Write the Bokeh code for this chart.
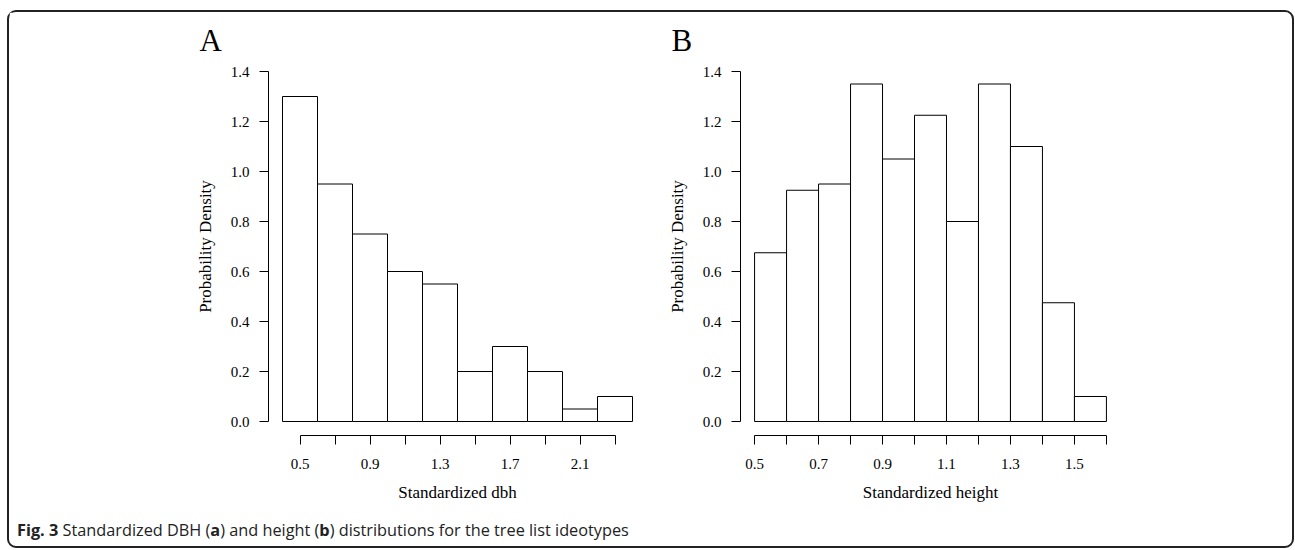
from bokeh.plotting import figure
from bokeh.models import FixedTicker, PrintfTickFormatter, Title, Div, Range1d, ColumnDataSource
from bokeh.layouts import row, column
from bokeh.embed import file_html
from bokeh.resources import INLINE

# ---- data ----
dbh_bin_left = [0.4, 0.6, 0.8, 1.0, 1.2, 1.4, 1.6, 1.8, 2.0, 2.2]
dbh_bin_right = [0.6, 0.8, 1.0, 1.2, 1.4, 1.6, 1.8, 2.0, 2.2, 2.4]
dbh_density = [1.3, 0.95, 0.75, 0.6, 0.55, 0.2, 0.3, 0.2, 0.05, 0.1]
dbh_ticks = [0.5, 0.7, 0.9, 1.1, 1.3, 1.5, 1.7, 1.9, 2.1, 2.3]
dbh_tick_labels = ["0.5", "", "0.9", "", "1.3", "", "1.7", "", "2.1", ""]

height_bin_left = [0.5, 0.6, 0.7, 0.8, 0.9, 1.0, 1.1, 1.2, 1.3, 1.4, 1.5]
height_bin_right = [0.6, 0.7, 0.8, 0.9, 1.0, 1.1, 1.2, 1.3, 1.4, 1.5, 1.6]
height_density = [0.675, 0.925, 0.95, 1.35, 1.05, 1.225, 0.8, 1.35, 1.1, 0.475, 0.1]
height_ticks = [0.5, 0.6, 0.7, 0.8, 0.9, 1.0, 1.1, 1.2, 1.3, 1.4, 1.5, 1.6]
height_tick_labels = ["0.5", "", "0.7", "", "0.9", "", "1.1", "", "1.3", "", "1.5", ""]

density_ticks = [0.0, 0.2, 0.4, 0.6, 0.8, 1.0, 1.2, 1.4]

panel_letters = ["A", "B"]
x_titles = ["Standardized dbh", "Standardized height"]
y_title = "Probability Density"

SERIF = "Liberation Serif"


def r_range(lo, hi):
    pad = 0.04 * (hi - lo)
    return Range1d(start=lo - pad, end=hi + pad)


def make_panel(lefts, rights, dens, ticks, tick_labels, letter, xtitle,
               width, mb_left, mb_right):
    p = figure(width=width, height=493,
               x_range=r_range(min(lefts), max(rights)),
               y_range=r_range(density_ticks[0], density_ticks[-1]),
               output_backend="svg", toolbar_location=None,
               min_border_left=mb_left, min_border_right=mb_right,
               min_border_top=45, min_border_bottom=70)
    p.outline_line_color = None
    p.xgrid.visible = False
    p.ygrid.visible = False
    p.background_fill_color = "white"
    p.border_fill_color = "white"

    src = ColumnDataSource(dict(left=lefts, right=rights, top=dens))
    p.quad(left="left", right="right", bottom=0, top="top", source=src,
           fill_color="white", line_color="black", line_width=1)

    for ax in (p.xaxis[0], p.yaxis[0]):
        ax.axis_line_color = "black"
        ax.axis_line_width = 1
        ax.major_tick_line_color = "black"
        ax.major_tick_out = 9
        ax.major_tick_in = 0
        ax.minor_tick_line_color = None
        ax.major_label_text_font = SERIF
        ax.major_label_text_font_size = "15px"
        ax.major_label_text_color = "black"
        ax.axis_label_text_font = SERIF
        ax.axis_label_text_font_size = "17px"
        ax.axis_label_text_font_style = "normal"
        ax.axis_label_text_color = "black"

    xa = p.xaxis[0]
    xa.ticker = FixedTicker(ticks=ticks)
    xa.major_label_overrides = dict(zip(ticks, tick_labels))
    xa.bounds = (ticks[0], ticks[-1])
    xa.major_label_standoff = 14
    xa.axis_label = xtitle
    xa.axis_label_standoff = 11

    ya = p.yaxis[0]
    ya.ticker = FixedTicker(ticks=density_ticks)
    ya.formatter = PrintfTickFormatter(format="%.1f")
    ya.bounds = (density_ticks[0], density_ticks[-1])
    ya.major_label_orientation = "horizontal"
    ya.major_label_standoff = 10
    ya.axis_label = y_title
    ya.axis_label_standoff = 13

    p.add_layout(Title(text=letter, align="left", offset=-69, standoff=0,
                       text_font=SERIF, text_font_size="31px",
                       text_font_style="normal", text_color="black"), "above")
    return p


p1 = make_panel(dbh_bin_left, dbh_bin_right, dbh_density, dbh_ticks,
                dbh_tick_labels, panel_letters[0], x_titles[0],
                width=641, mb_left=259, mb_right=4)
p2 = make_panel(height_bin_left, height_bin_right, height_density, height_ticks,
                height_tick_labels, panel_letters[1], x_titles[1],
                width=638, mb_left=90, mb_right=168)

caption = Div(
    text="<b>Fig. 3</b> Standardized DBH (<b>a</b>) and height (<b>b</b>) "
         "distributions for the tree list ideotypes",
    width=1273, height=31,
    styles={"font-family": "Open Sans", "font-size": "16.3px", "color": "#222",
            "padding-left": "3px", "padding-top": "10px", "line-height": "20px"})

layout = column(row(p1, p2), caption,
                styles={"border": "2px solid #222", "border-radius": "9px",
                        "margin-top": "10px", "margin-left": "7px",
                        "background": "white"})

html = file_html(layout, INLINE)
open("out.html", "w").write(html)
